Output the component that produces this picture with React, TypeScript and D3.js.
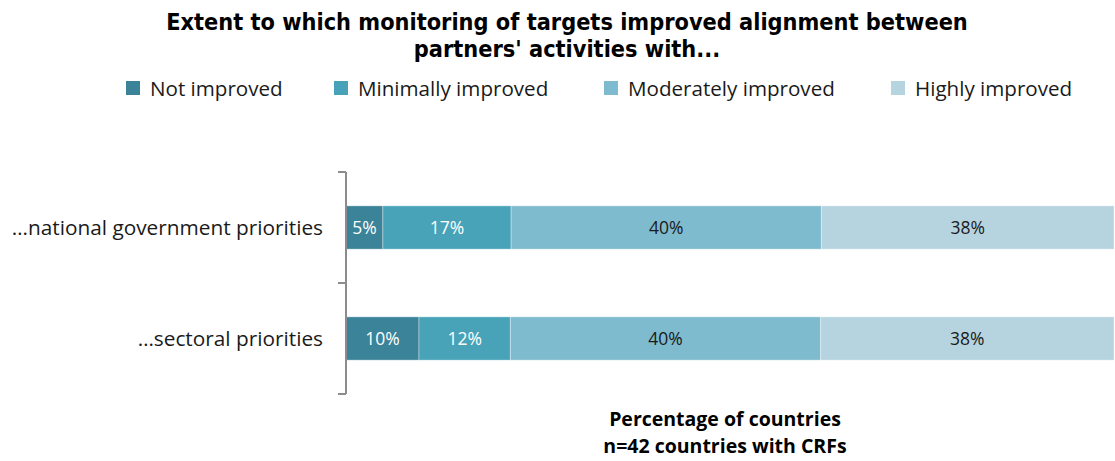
import React from "react";
import * as d3 from "d3";

const categories = ["…national government priorities", "…sectoral priorities"];
const seriesNames = ["Not improved", "Minimally improved", "Moderately improved", "Highly improved"];
const nationalValues = [4.8, 16.7, 40.4, 38.1];
const sectoralValues = [9.5, 11.9, 40.4, 38.2];
const seriesColors = ["#3a8398", "#48a2b8", "#7fbbcf", "#b6d4df"];
const labelColors = ["#ffffff", "#ffffff", "#1a1a1a", "#1a1a1a"];
const titleLines = ["Extent to which monitoring of targets improved alignment between", "partners' activities with..."];
const axisTitleLines = ["Percentage of countries", "n=42 countries with CRFs"];
const legendX = [126, 334, 604, 891];

const W = 1115;
const H = 461;
const BODY_FONT = "'Open Sans', sans-serif";
const TITLE_FONT = "'DejaVu Sans Condensed', 'Liberation Sans Narrow', 'Open Sans', sans-serif";

export default function App() {
  const rows = [nationalValues, sectoralValues];
  const x = d3.scaleLinear().domain([0, 100]).range([346, 1114]);
  const y = d3.scaleBand().domain(categories).range([172, 394]).paddingInner(0.61).paddingOuter(0.305);
  const fmt = (v: number) => `${Math.round(v)}%`;
  const stack = rows.map((vals) => {
    let acc = 0;
    return vals.map((v) => {
      const s = acc;
      acc += v;
      return [s, acc];
    });
  });
  const ticks = [172, 283, 394];

  return (
    <svg width={W} height={H} style={{ position: "absolute", left: 0, top: 0, display: "block" }}>
      <rect width={W} height={H} fill="#ffffff" />
      {titleLines.map((t, i) => (
        <text key={t} x={567} y={30 + i * 27} textAnchor="middle" fontFamily={TITLE_FONT} fontWeight="bold" fontSize={23.3} fill="#000">
          {t}
        </text>
      ))}
      {seriesNames.map((n, i) => (
        <g key={n}>
          <rect x={legendX[i]} y={81} width={14} height={14} fill={seriesColors[i]} />
          <text x={legendX[i] + 24} y={95.5} fontFamily={BODY_FONT} fontSize={20.6} fill="#1a1a1a">
            {n}
          </text>
        </g>
      ))}
      {rows.map((vals, r) => (
        <g key={categories[r]}>
          {vals.map((v, i) => {
            const [s, e] = stack[r][i];
            const x0 = x(s);
            const x1 = x(e);
            const yy = y(categories[r])!;
            return (
              <g key={i}>
                <rect x={x0} y={yy} width={x1 - x0} height={y.bandwidth()} fill={seriesColors[i]} stroke="#ffffff" strokeOpacity={0.35} strokeWidth={1} />
                <text x={(x0 + x1) / 2} y={yy + y.bandwidth() / 2 + 6.5} textAnchor="middle" fontFamily={BODY_FONT} fontSize={17.5} fill={labelColors[i]}>
                  {fmt(v)}
                </text>
              </g>
            );
          })}
          <text x={323} y={y(categories[r])! + y.bandwidth() / 2 + 7.5} textAnchor="end" fontFamily={BODY_FONT} fontSize={20.8} fill="#1a1a1a">
            {categories[r]}
          </text>
        </g>
      ))}
      <line x1={346} x2={346} y1={172} y2={394} stroke="#8c8c8c" strokeWidth={2} />
      {ticks.map((t) => (
        <line key={t} x1={338} x2={346} y1={t} y2={t} stroke="#8c8c8c" strokeWidth={2} />
      ))}
      {axisTitleLines.map((t, i) => (
        <text key={t} x={725} y={426 + i * 27} textAnchor="middle" fontFamily={BODY_FONT} fontWeight="bold" fontSize={19.5} fill="#000">
          {t}
        </text>
      ))}
    </svg>
  );
}
